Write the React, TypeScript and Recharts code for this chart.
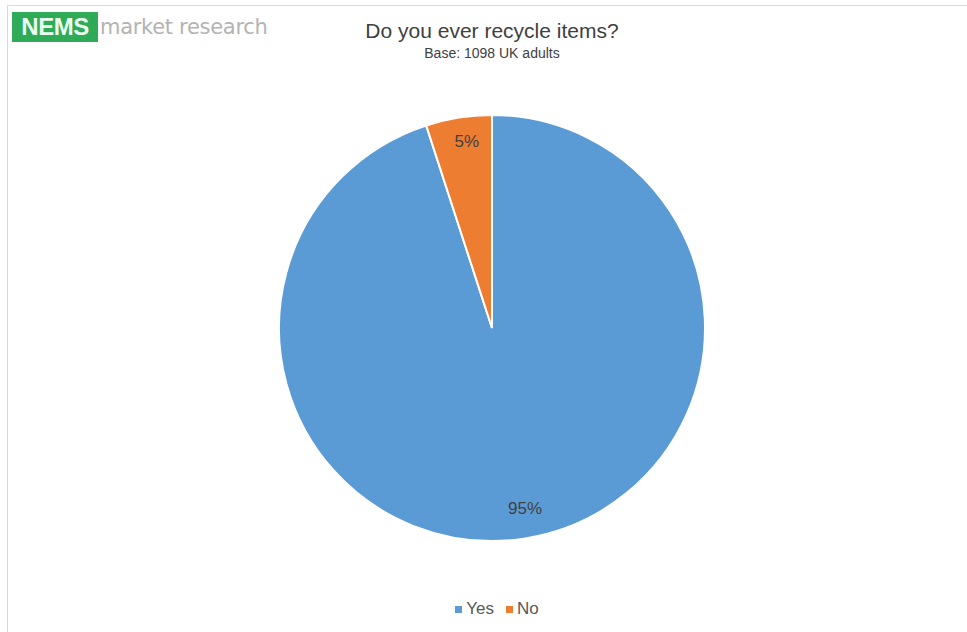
import { PieChart, Pie, Cell } from 'recharts'

const categories = ['Yes', 'No']
const shares = [95, 5]
const colors = ['#5B9BD5', '#ED7D31']

const data = categories.map((name, i) => ({ name, value: shares[i] }))

const font = '"Liberation Sans Narrow", "Arial Narrow", "Liberation Sans", Arial, sans-serif'
const RAD = Math.PI / 180

// label sits just inside the slice edge, like Excel's inside-end placement
const renderLabel = (props: any) => {
  const { cx, cy, midAngle, outerRadius, value } = props
  const r = outerRadius - 27
  const x = cx + r * Math.cos(-midAngle * RAD) + 4
  const y = cy + r * Math.sin(-midAngle * RAD) - 3
  return (
    <text x={x} y={y} fill="#404040" fontSize={17} fontFamily={font} textAnchor="middle" dominantBaseline="central">
      {value}%
    </text>
  )
}

export default function App() {
  return (
    <div style={{ position: 'absolute', left: 0, top: 0, width: 967, height: 632, overflow: 'hidden', background: '#fff' }}>
      <div style={{ position: 'absolute', left: 7, top: 5, width: 980, height: 650, border: '1px solid #d9d9d9' }} />
      <div style={{ position: 'absolute', left: 12, top: 12, display: 'flex', alignItems: 'center', height: 30 }}>
        <div style={{ background: '#2FAA57', color: '#eafff0', fontFamily: 'Arial, sans-serif', fontWeight: 'bold', fontSize: 24, height: 30, width: 86, lineHeight: '30px', textAlign: 'center', letterSpacing: -0.5 }}>
          NEMS
        </div>
        <div style={{ color: '#b3b3b3', fontFamily: '"DejaVu Sans", sans-serif', fontSize: 21, marginLeft: 2, letterSpacing: -0.3 }}>
          market research
        </div>
      </div>
      <div style={{ position: 'absolute', left: 0, width: 984, top: 18, textAlign: 'center', fontFamily: font, color: '#404040' }}>
        <div style={{ fontSize: 21, lineHeight: '26px' }}>Do you ever recycle items?</div>
        <div style={{ fontSize: 14, lineHeight: '18px' }}>Base: 1098 UK adults</div>
      </div>
      <PieChart width={967} height={632} style={{ position: 'absolute', left: 0, top: 0 }}>
        <Pie
          data={data}
          dataKey="value"
          nameKey="name"
          cx={487}
          cy={323}
          outerRadius={213}
          startAngle={90}
          endAngle={-270}
          stroke="#ffffff"
          strokeWidth={2}
          label={renderLabel}
          labelLine={false}
          isAnimationActive={false}
        >
          {data.map((d, i) => (
            <Cell key={d.name} fill={colors[i]} />
          ))}
        </Pie>
      </PieChart>
      <div style={{ position: 'absolute', left: 0, width: 994, top: 599, display: 'flex', justifyContent: 'center', alignItems: 'center', fontFamily: font, fontSize: 17, color: '#595959' }}>
        {data.map((d, i) => (
          <div key={d.name} style={{ display: 'flex', alignItems: 'center', marginRight: i === 0 ? 12 : 0 }}>
            <span style={{ display: 'inline-block', width: 7, height: 7, background: colors[i], marginRight: 4 }} />
            <span>{d.name}</span>
          </div>
        ))}
      </div>
    </div>
  )
}
